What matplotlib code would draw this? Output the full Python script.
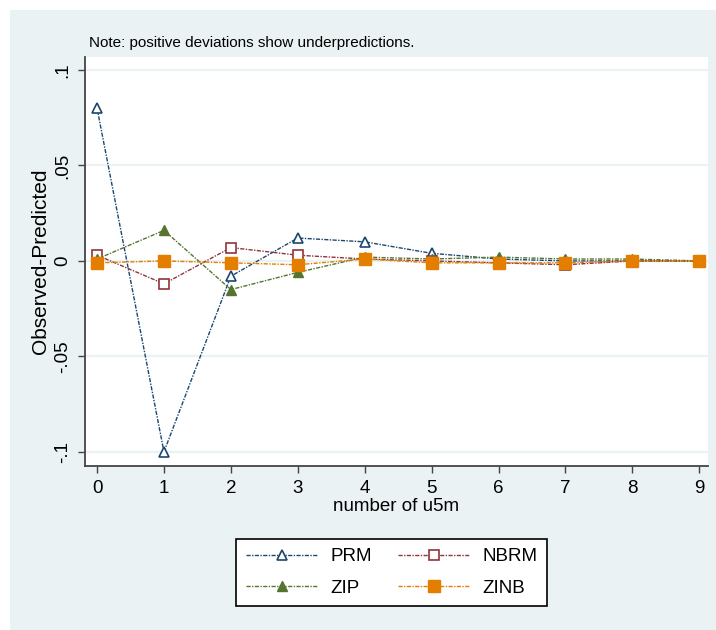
import numpy as np
import matplotlib
matplotlib.use("Agg")
import matplotlib.pyplot as plt
from matplotlib.patches import Rectangle

plt.rcParams['font.family'] = ['Liberation Sans', 'DejaVu Sans']

# values
counts = [0, 1, 2, 3, 4, 5, 6, 7, 8, 9]
prm = [0.080, -0.100, -0.008, 0.012, 0.010, 0.004, 0.001, 0.000, 0.000, 0.000]
nbrm = [0.003, -0.012, 0.007, 0.003, 0.001, 0.000, -0.001, -0.002, 0.000, 0.000]
zip_ = [0.001, 0.016, -0.015, -0.006, 0.002, 0.001, 0.002, 0.001, 0.001, 0.000]
zinb = [-0.001, 0.000, -0.001, -0.002, 0.001, -0.001, -0.001, -0.001, 0.000, 0.000]

yticks = [-0.1, -0.05, 0, 0.05, 0.1]
yticklabels = ["-.1", "-.05", "0", ".05", ".1"]

# Stata s2color palette
navy = "#1A476F"
maroon = "#90353B"
green = "#55752F"
orange = "#E37E00"
bg = "#EAF2F3"

W, H = 716, 630
fig = plt.figure(figsize=(W / 100, H / 100), dpi=100)
fig.patches.append(Rectangle((10 / W, 0), 1 - 10 / W, 1 - 10 / H,
                             transform=fig.transFigure, facecolor=bg,
                             edgecolor="none", zorder=-10))

ax = fig.add_axes([85 / W, 1 - 466 / H, (708 - 85) / W, (466 - 57) / H])
ax.set_facecolor("white")

ls = (0, (3, 1, 1, 1))
h_prm, = ax.plot(counts, prm, color=navy, lw=1, ls=ls, marker="^", ms=7,
                 mfc="white", mec=navy, mew=1.2, label="PRM")
h_nbrm, = ax.plot(counts, nbrm, color=maroon, lw=1, ls=ls, marker="s", ms=7,
                  mfc="white", mec=maroon, mew=1.2, label="NBRM")
h_zip, = ax.plot(counts, zip_, color=green, lw=1, ls=ls, marker="^", ms=7.5,
                 mfc=green, mec=green, label="ZIP")
h_zinb, = ax.plot(counts, zinb, color=orange, lw=1, ls=ls, marker="s", ms=8,
                  mfc=orange, mec=orange, label="ZINB")

ax.set_xlim(-0.18, 9.13)
ax.set_ylim(-0.1074, 0.1068)
ax.set_xticks(counts)
ax.set_yticks(yticks)
ax.set_yticklabels(yticklabels, rotation=90, va="center")
for y in yticks:
    ax.axhline(y, color=bg, lw=1.6, zorder=0)

for s in ["top", "right"]:
    ax.spines[s].set_visible(False)
for s in ["left", "bottom"]:
    ax.spines[s].set_color("#444444")
    ax.spines[s].set_linewidth(1.3)
ax.tick_params(axis="both", direction="out", length=5, width=1,
               color="#444444", labelsize=13.5)
ax.tick_params(axis="y", pad=5)
ax.tick_params(axis="x", pad=5)

ax.set_ylabel("Observed-Predicted", fontsize=15, labelpad=3)
ax.set_xlabel("number of u5m", fontsize=13.5, labelpad=1)

fig.text(89 / W, 1 - 43 / H, "Note: positive deviations show underpredictions.",
         fontsize=11, va="center", ha="left")

# row-wise order like Stata: PRM NBRM / ZIP ZINB
handles = [h_prm, h_zip, h_nbrm, h_zinb]
leg = fig.legend(handles, [h.get_label() for h in handles],
                 loc="center", bbox_to_anchor=(391.5 / W, 1 - 572.5 / H),
                 ncol=2, fontsize=13.5, frameon=True, fancybox=False,
                 edgecolor="black", framealpha=1, handlelength=3.85,
                 handletextpad=0.65, columnspacing=1.4, labelspacing=0.75,
                 borderpad=0.5)
leg.get_frame().set_linewidth(1.2)

fig.savefig("out.png", dpi=100)
